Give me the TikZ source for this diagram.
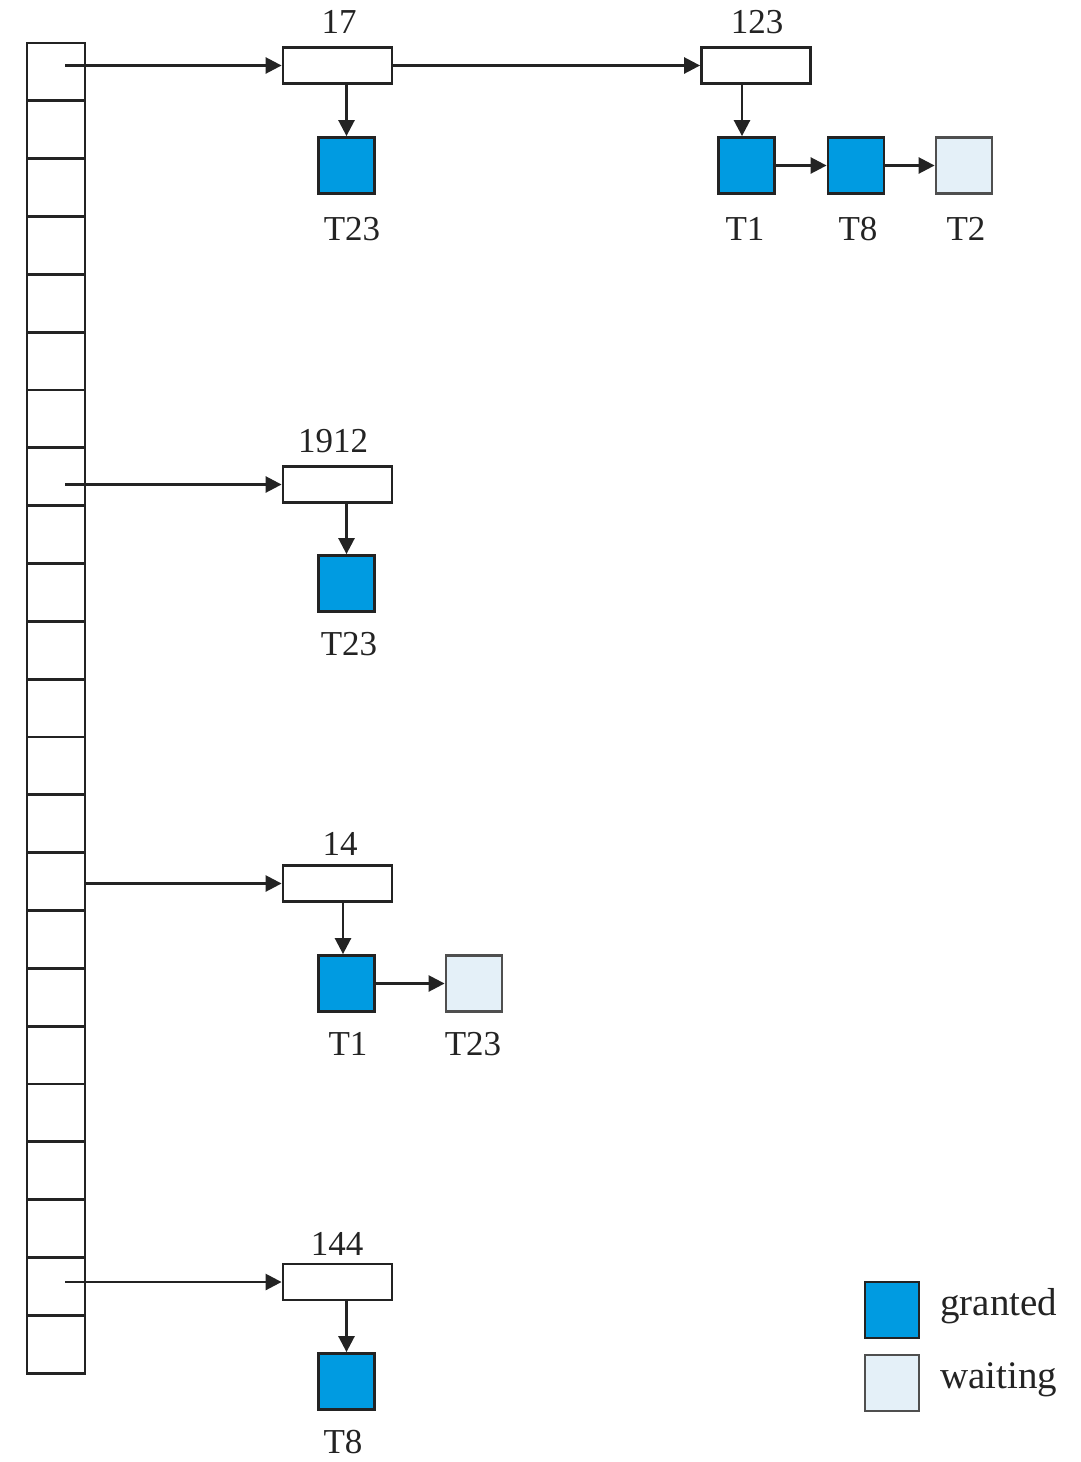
\documentclass[tikz,border=0pt]{standalone}
\usepackage{fontspec}
\setmainfont{Liberation Serif}
\usetikzlibrary{arrows.meta}
\definecolor{grantblue}{RGB}{0,155,225}
\definecolor{waitblue}{RGB}{228,240,248}
\definecolor{ink}{RGB}{35,35,35}
\begin{document}
\begin{tikzpicture}[x=1pt,y=-1pt,
  cell/.style={draw=ink,line width=2.8pt,minimum width=58pt,minimum height=57.83pt,inner sep=0pt},
  lockbox/.style={draw=ink,line width=2.8pt,fill=white,minimum width=109pt,minimum height=36pt,inner sep=0pt},
  granted/.style={draw=ink,line width=2.8pt,fill=grantblue,minimum width=56pt,minimum height=56pt,inner sep=0pt},
  waiting/.style={draw=ink!80,line width=2.8pt,fill=waitblue,minimum width=56pt,minimum height=56pt,inner sep=0pt},
  lbl/.style={font=\fontsize{35}{40}\selectfont,text=ink,anchor=base,inner sep=0pt},
  leg/.style={font=\fontsize{39}{44}\selectfont,text=ink,anchor=base west,inner sep=0pt},
  arr/.style={draw=ink,line width=2.6pt,-{Triangle[length=16pt,width=16pt]}}]
\useasboundingbox (0,0) rectangle (1081,1462);
% hash table
\foreach \i in {1,...,23} \node[cell] (c\i) at (56,{43+57.83*(\i-0.5)}) {};
% lock boxes
\node[lockbox] (b17) at (337.5,65.5) {};
\node[lockbox] (b123) at (756,65.5) {};
\node[lockbox] (b1912) at (337.5,484.5) {};
\node[lockbox] (b14) at (337.5,883.5) {};
\node[lockbox] (b144) at (337.5,1282) {};
% labels of boxes
\node[lbl] (l17) at (339,33) {17};
\node[lbl] (l123) at (757,33) {123};
\node[lbl] (l1912) at (333,452) {1912};
\node[lbl] (l14) at (340,855) {14};
\node[lbl] (l144) at (337,1255) {144};
% request squares
\node[granted] (s17a) at (346.5,165.5) {};
\node[granted] (s123a) at (746.5,165.5) {};
\node[granted] (s123b) at (856,165.5) {};
\node[waiting] (s123c) at (964,165.5) {};
\node[granted] (s1912a) at (346.5,583.5) {};
\node[granted] (s14a) at (346.5,983.5) {};
\node[waiting] (s14b) at (474,983.5) {};
\node[granted] (s144a) at (346.5,1381.5) {};
% square labels
\node[lbl] (t17a) at (352,240) {T23};
\node[lbl] (t123a) at (745,240) {T1};
\node[lbl] (t123b) at (858,240) {T8};
\node[lbl] (t123c) at (966,240) {T2};
\node[lbl] (t1912a) at (349,655) {T23};
\node[lbl] (t14a) at (348,1055) {T1};
\node[lbl] (t14b) at (473,1055) {T23};
\node[lbl] (t144a) at (343,1453) {T8};
% start points of the bucket pointers
\coordinate (p1) at (65,65.5);
\coordinate (p8) at (65,484.5);
\coordinate (p15) at (85,883.5);
\coordinate (p22) at (65,1282);
\draw[arr] (p1) -- (b17.west);
\draw[arr] (p8) -- (b1912.west);
\draw[arr] (p15) -- (b14.west);
\draw[arr] (p22) -- (b144.west);
\draw[arr] (b17.east) -- (b123.west);
% down pointers
\draw[arr] (b17.south -| s17a.north) -- (s17a.north);
\draw[arr] (b123.south -| 742,0) -- (s123a.north -| 742,0);
\draw[arr] (b1912.south -| s1912a.north) -- (s1912a.north);
\draw[arr] (b14.south -| 343,0) -- (s14a.north -| 343,0);
\draw[arr] (b144.south -| s144a.north) -- (s144a.north);
% queue pointers
\draw[arr] (s123a.east) -- (s123b.west);
\draw[arr] (s123b.east) -- (s123c.west);
\draw[arr] (s14a.east) -- (s14b.west);
% legend
\node[granted,minimum width=54pt] (lg) at (892,1310) {};
\node[waiting,minimum width=54pt] (lw) at (892,1383) {};
\node[leg] (lgt) at (940,1315) {granted};
\node[leg] (lwt) at (940,1388) {waiting};
\end{tikzpicture}
\end{document}
